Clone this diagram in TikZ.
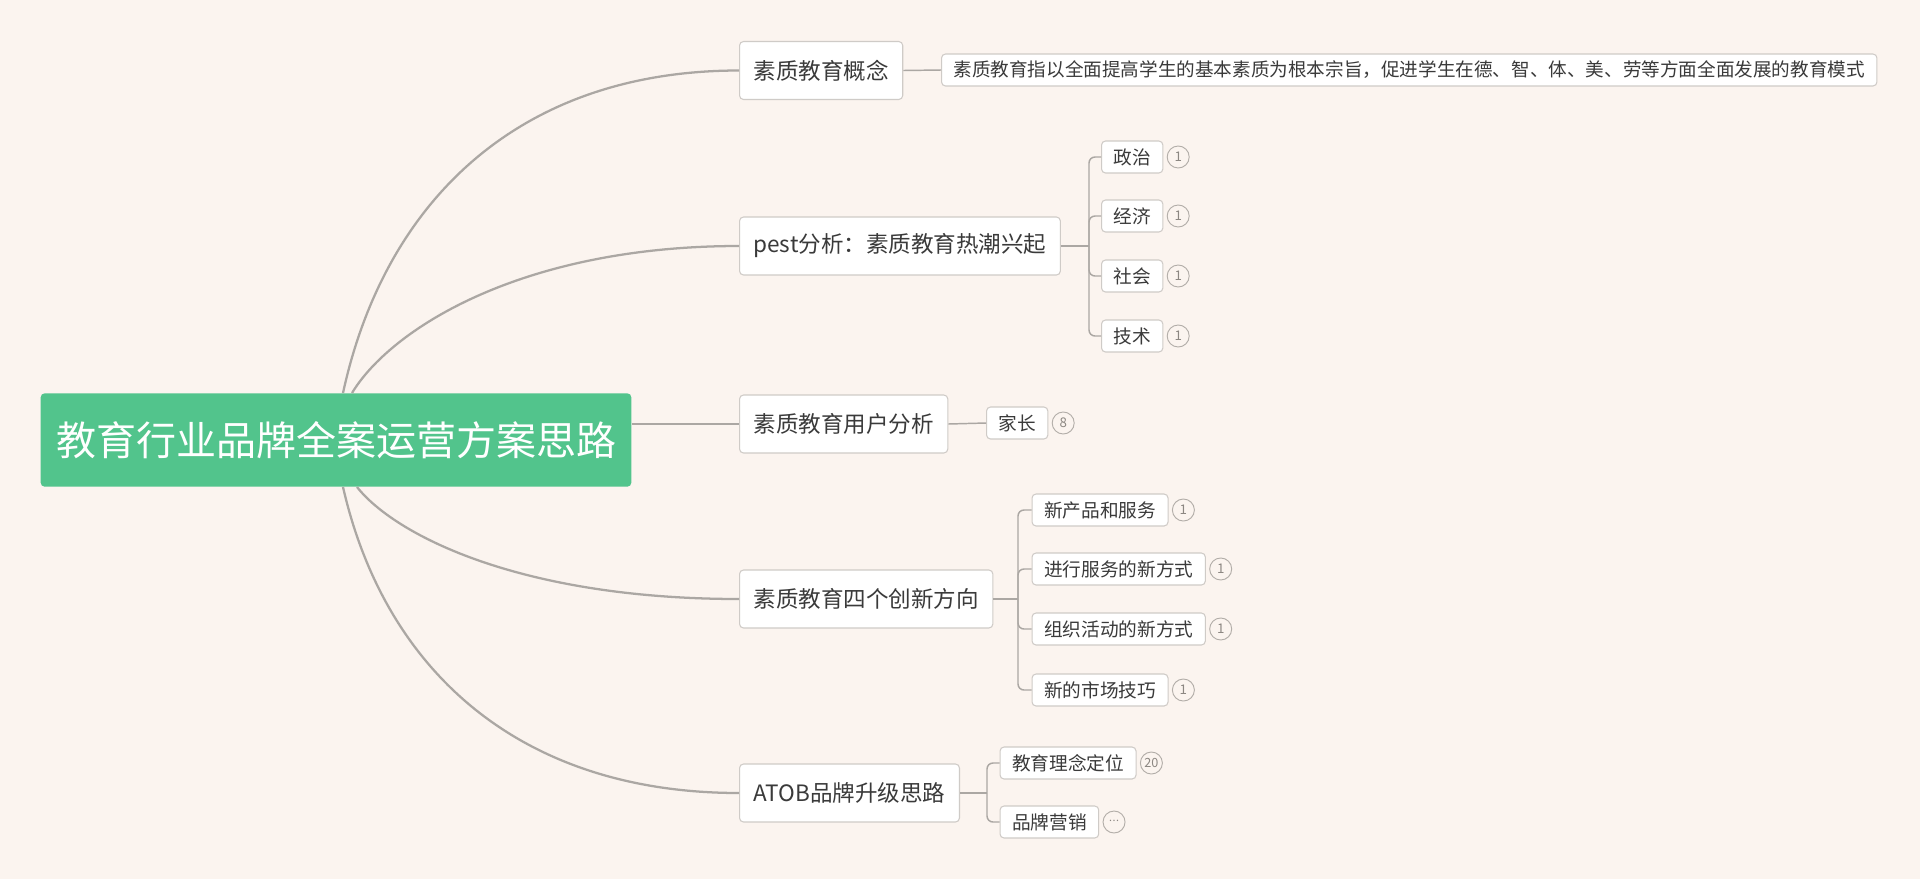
\documentclass[tikz,border=0pt]{standalone}
\usepackage{fontspec}
\setmainfont{Noto Sans CJK SC}
\usetikzlibrary{calc,positioning}
\definecolor{bg}{HTML}{FBF4EF}
\definecolor{rootgreen}{HTML}{52C48C}
\definecolor{linec}{HTML}{ABA7A3}
\definecolor{boxline}{HTML}{CFCBC7}
\definecolor{txt}{HTML}{3A3A3A}
\definecolor{badgec}{HTML}{B3AEA9}
\definecolor{badgetxt}{HTML}{8C8782}
\tikzset{
  rootbox/.style={fill=rootgreen, rounded corners=3pt, minimum width=443pt, minimum height=70pt, inner sep=0pt, text=white, font=\fontsize{30}{36}\selectfont},
  lone/.style={draw=boxline, fill=white, rounded corners=3pt, line width=0.8pt, anchor=west, minimum height=43.5pt, inner xsep=10.5pt, inner ysep=0pt, text=txt, font=\fontsize{16.9}{20}\selectfont},
  ltwo/.style={draw=boxline, fill=white, rounded corners=3pt, line width=0.8pt, anchor=west, minimum height=24pt, inner xsep=9pt, inner ysep=0pt, text=txt, font=\fontsize{14}{17}\selectfont},
  badge/.style={circle, draw=badgec, line width=0.7pt, minimum size=16.5pt, inner sep=0pt, text=badgetxt, font=\fontsize{10}{11}\selectfont},
  mainline/.style={draw=linec, line width=1.7pt},
  subline/.style={draw=linec, line width=1.1pt},
}
\begin{document}
\begin{tikzpicture}[x=0.75pt,y=-0.75pt]
\fill[bg] (0,0) rectangle (1920,879);
\useasboundingbox (0,0) rectangle (1920,879);

% root
\node[rootbox] (root) at (336,440) {教育行业品牌全案运营方案思路};

% level 1
\node[lone] (c1) at (739,70.5) {素质教育概念};
\node[lone] (c2) at (739,246) {pest分析：素质教育热潮兴起};
\node[lone] (c3) at (739,424) {素质教育用户分析};
\node[lone] (c4) at (739,599) {素质教育四个创新方向};
\node[lone] (c5) at (739,793) {ATOB品牌升级思路};

% level 2
\node[ltwo, inner xsep=9pt, font=\fontsize{13.95}{17}\selectfont] (def) at (941,70) {素质教育指以全面提高学生的基本素质为根本宗旨，促进学生在德、智、体、美、劳等方面全面发展的教育模式};

\node[ltwo] (p1) at (1101,157) {政治};
\node[ltwo] (p2) at (1101,216) {经济};
\node[ltwo] (p3) at (1101,276) {社会};
\node[ltwo] (p4) at (1101,336) {技术};

\node[ltwo] (jz) at (986,423) {家长};

\node[ltwo] (n1) at (1031.5,510) {新产品和服务};
\node[ltwo] (n2) at (1031.5,569) {进行服务的新方式};
\node[ltwo] (n3) at (1031.5,629) {组织活动的新方式};
\node[ltwo] (n4) at (1031.5,690) {新的市场技巧};

\node[ltwo] (a1) at (999.5,763) {教育理念定位};
\node[ltwo] (a2) at (999.5,822) {品牌营销};

% badges
\node[badge, right=2.5pt of p1] (bp1) {1};
\node[badge, right=2.5pt of p2] (bp2) {1};
\node[badge, right=2.5pt of p3] (bp3) {1};
\node[badge, right=2.5pt of p4] (bp4) {1};
\node[badge, right=2.5pt of jz] (bjz) {8};
\node[badge, right=2.5pt of n1] (bn1) {1};
\node[badge, right=2.5pt of n2] (bn2) {1};
\node[badge, right=2.5pt of n3] (bn3) {1};
\node[badge, right=2.5pt of n4] (bn4) {1};
\node[badge, right=2.5pt of a1, font=\fontsize{9.5}{10}\selectfont] (ba1) {20};
\node[badge, right=2.5pt of a2, font=\fontsize{8}{8}\selectfont] (ba2) {\raisebox{1.6pt}{.\kern0.4pt.\kern0.4pt.}};

% main connectors from root
\coordinate (r1) at (343,393);
\coordinate (r2) at (352,393);
\coordinate (r4) at (357,487);
\coordinate (r5) at (343,487);
\draw[mainline] (r1) .. controls (385,200) and (520,70.5) .. (c1.west);
\draw[mainline] (r2) .. controls (390,330) and (520,246) .. (c2.west);
\draw[mainline] (root.east |- c3.west) -- (c3.west);
\draw[mainline] (r4) .. controls (395,535) and (520,599) .. (c4.west);
\draw[mainline] (r5) .. controls (385,671) and (520,793) .. (c5.west);

% sub connectors
\draw[subline] (c1.east) -- (def.west);
\draw[subline] (c3.east) -- (jz.west);

\coordinate (s2) at (1089,246);
\draw[subline] (c2.east) -- (s2);
\foreach \k in {p1,p2,p3,p4} {\draw[subline, rounded corners=4.5pt] (s2) |- (\k.west);}

\coordinate (s4) at (1018,599);
\draw[subline] (c4.east) -- (s4);
\foreach \k in {n1,n2,n3,n4} {\draw[subline, rounded corners=4.5pt] (s4) |- (\k.west);}

\coordinate (s5) at (987,793);
\draw[subline] (c5.east) -- (s5);
\foreach \k in {a1,a2} {\draw[subline, rounded corners=4.5pt] (s5) |- (\k.west);}
\end{tikzpicture}
\end{document}
